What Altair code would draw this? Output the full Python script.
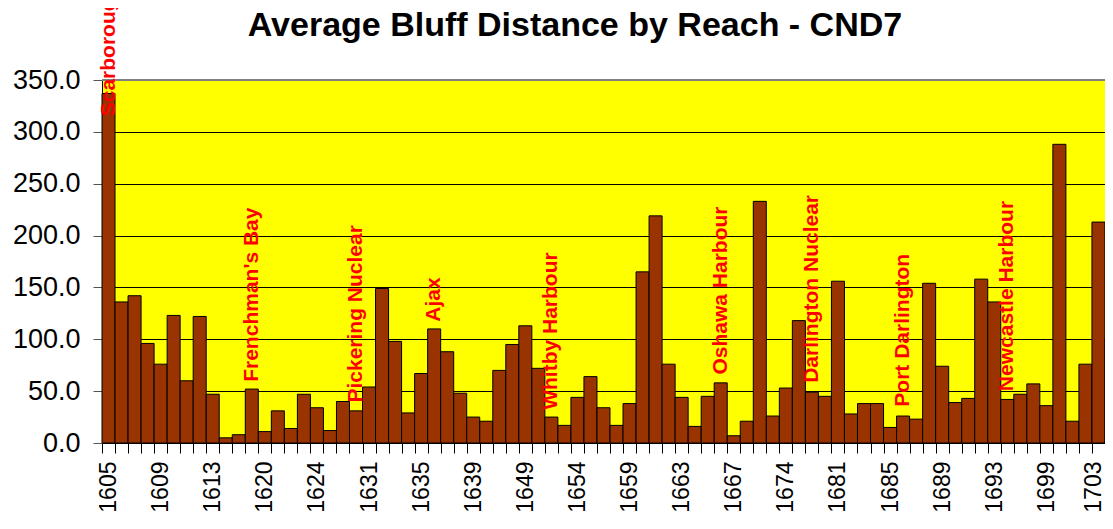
import json
import altair as alt
import pandas as pd

# ---- data ----
reaches = [
    "1605", "1606", "1607", "1608", "1609", "1610", "1611", "1612",
    "1613", "1614", "1616", "1618", "1620", "1621", "1622", "1623",
    "1624", "1626", "1628", "1630", "1631", "1632", "1633", "1634",
    "1635", "1636", "1637", "1638", "1639", "1642", "1645", "1647",
    "1649", "1650", "1651", "1652", "1654", "1655", "1656", "1658",
    "1659", "1660", "1661", "1662", "1663", "1664", "1665", "1666",
    "1667", "1669", "1671", "1672", "1674", "1676", "1678", "1679",
    "1681", "1682", "1683", "1684", "1685", "1686", "1687", "1688",
    "1689", "1690", "1691", "1692", "1693", "1695", "1696", "1697",
    "1699", "1700", "1701", "1702", "1703", "1704",
]
distance = [
    337, 136, 142, 96, 76, 123, 60, 122,
    47, 5, 8, 52, 11, 31, 14, 47,
    34, 12, 40, 31, 54, 149, 98, 29,
    67, 110, 88, 48, 25, 21, 70, 95,
    113, 72, 25, 17, 44, 64, 34, 17,
    38, 165, 219, 76, 44, 16, 45, 58,
    7, 21, 233, 26, 53, 118, 49, 45,
    156, 28, 38, 38, 15, 26, 23, 154,
    74, 39, 43, 158, 136, 42, 47, 57,
    36, 288, 21, 76, 213, 101,
]
shown_ticks = [
    "1605", "1609", "1613", "1620", "1624", "1631", "1635", "1639", "1649", "1654",
    "1659", "1663", "1667", "1674", "1681", "1685", "1689", "1693", "1699", "1703",
]
place_names = [
    "Scarborough", "Frenchman's Bay", "Pickering Nuclear", "Ajax", "Whitby Harbour",
    "Oshawa Harbour", "Darlington Nuclear", "Port Darlington", "Newcastle Harbour",
]
place_reach = ["1605", "1618", "1630", "1636", "1651", "1666", "1678", "1686", "1695"]
place_level = [315, 59, 39, 117, 32, 66, 58, 35, 50]
y_ticks = [0, 50, 100, 150, 200, 250, 300, 350]
chart_title = "Average Bluff Distance by Reach - CND7"

FONT = "Liberation Sans"

bars_df = pd.DataFrame({"reach": reaches, "dist": distance})
names_df = pd.DataFrame({"reach": place_reach, "name": place_names, "lvl": place_level})
title_df = pd.DataFrame({"t": [chart_title]})

label_expr = ("indexof(" + json.dumps(shown_ticks).replace('"', "'") +
              ", datum.value) >= 0 ? datum.label : ''")

x_enc = alt.X(
    "reach:N",
    sort=None,
    scale=alt.Scale(domain=reaches, paddingInner=0, paddingOuter=0),
    axis=alt.Axis(
        title=None, labelAngle=270, labelFontSize=23, labelFont=FONT,
        labelColor="black", labelPadding=8, labelExpr=label_expr,
        labelOffset={"condition": {"test": "datum.value === '" + shown_ticks[-1] + "'",
                                   "value": -5}, "value": 0},
        tickBand="extent", tickSize=10, tickColor="black", domainColor="black",
        labelOverlap=False, grid=False,
    ),
)

y_scale = alt.Scale(domain=[0, 350], nice=False)

bars = alt.Chart(bars_df).mark_bar(
    color="#993300", stroke="black", strokeWidth=1
).encode(
    x=x_enc,
    y=alt.Y(
        "dist:Q", scale=y_scale,
        axis=alt.Axis(
            title=None, values=y_ticks, format=".1f", labelFontSize=27,
            labelFont=FONT, labelColor="black", labelPadding=13, tickSize=9,
            tickColor="#555555", domainColor="black", grid=True,
            gridColor="black", gridWidth=1,
        ),
    ),
)

top_rule = alt.Chart(title_df).mark_rule(color="#808080", strokeWidth=2).encode(
    y=alt.datum(350, scale=y_scale)
)

names = alt.Chart(names_df).mark_text(
    angle=270, align="left", baseline="middle", color="#FF0000",
    fontWeight="bold", fontSize=21, font=FONT,
).encode(
    x=alt.X("reach:N", sort=None),
    y=alt.Y("lvl:Q", scale=y_scale),
    text="name:N",
)

title_mark = alt.Chart(title_df).mark_text(
    fontSize=34, fontWeight="bold", font=FONT, color="black",
    align="center", baseline="alphabetic",
).encode(
    x=alt.value(473), y=alt.value(-44), text="t:N"
)

chart = alt.layer(bars, top_rule, names, title_mark).properties(
    width=1016,
    height=363,
    autosize=alt.AutoSizeParams(type="none"),
    padding={"left": 94, "top": 72, "right": -13, "bottom": 70},
).configure_view(fill="#FFFF00", stroke=None)

chart.save("out.html", embed_options={"renderer": "svg", "actions": False})
